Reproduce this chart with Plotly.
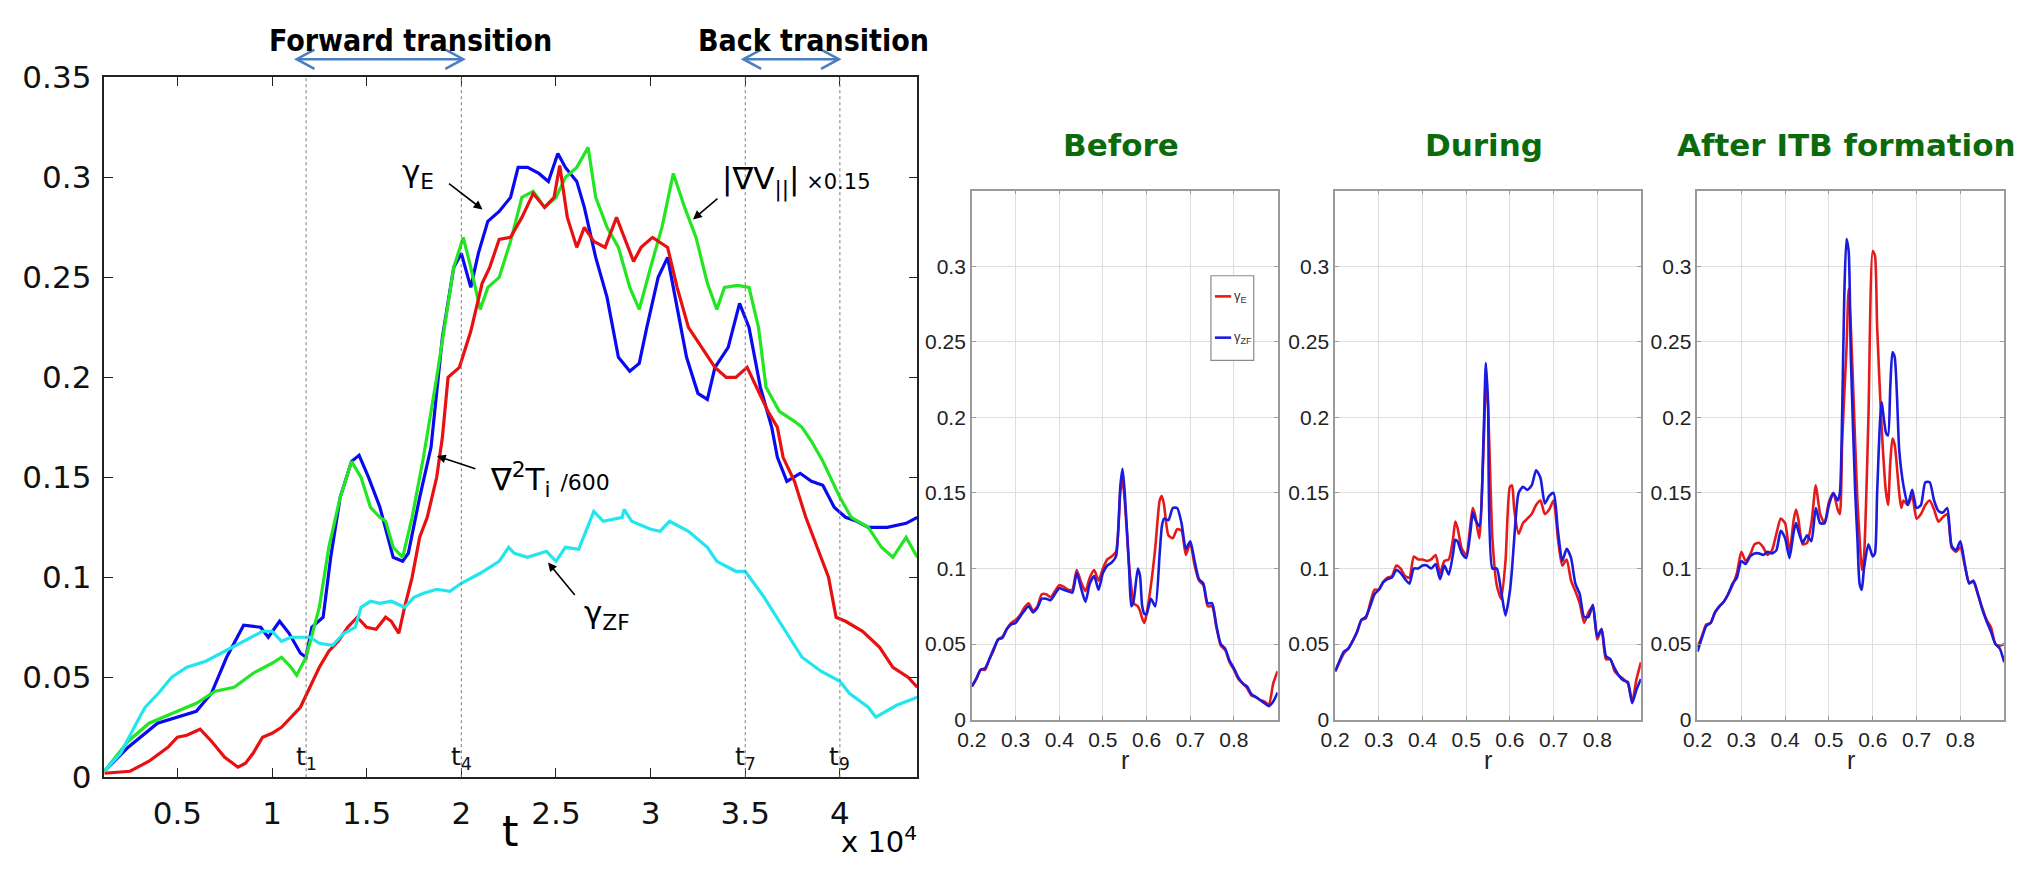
import plotly.graph_objects as go

W, H = 2031, 870

# ---------------- time traces (left panel) ----------------
t_gE = [1140, 2400, 3950, 5000, 6000, 6800, 7600, 8500, 9400, 9800, 10400, 10900, 11500, 11800,
        12100, 12700, 13100, 13600, 14200, 14600, 15100, 15700, 16400, 16900, 17200, 17800, 18400,
        19000, 19600, 20000, 20500, 20900, 21400, 22000, 22600, 23000, 23500, 24100, 24600, 25100,
        25500, 26100, 26500, 27100, 27700, 28300, 28900, 29400, 29800, 30400, 30900, 31300, 31900,
        32500, 33000, 33400, 34100, 34700, 35200, 35800, 36400, 36700, 37200, 37900, 38500, 39100,
        39700, 40300, 40900, 41500, 42500, 43500, 44090]
gamma_E = [0.003, 0.015, 0.027, 0.030, 0.033, 0.042, 0.060, 0.076, 0.075, 0.070, 0.078, 0.072, 0.062, 0.060,
           0.075, 0.080, 0.110, 0.140, 0.158, 0.161, 0.150, 0.135, 0.110, 0.108, 0.112, 0.140, 0.165,
           0.220, 0.255, 0.262, 0.245, 0.262, 0.278, 0.283, 0.290, 0.305, 0.305, 0.302, 0.298, 0.312,
           0.305, 0.298, 0.285, 0.260, 0.240, 0.210, 0.203, 0.207, 0.225, 0.250, 0.260, 0.240, 0.210,
           0.192, 0.189, 0.205, 0.215, 0.237, 0.225, 0.195, 0.175, 0.160, 0.148, 0.152, 0.148, 0.146,
           0.135, 0.130, 0.128, 0.125, 0.125, 0.127, 0.130]

t_gradV = [1140, 2400, 3500, 5000, 6000, 7000, 8000, 9000, 10000, 10500, 11000, 11300, 11800, 12500,
           13000, 13600, 14200, 14700, 15200, 15700, 16000, 16400, 16900, 17400, 18000, 18700, 19600,
           20100, 20500, 21000, 21400, 22000, 22600, 23200, 23800, 24400, 25000, 25500, 26100, 26700,
           27100, 27700, 28300, 28900, 29400, 30000, 30600, 31200, 31800, 32400, 33000, 33500, 33900,
           34600, 35200, 35700, 36100, 36800, 37600, 38000, 38500, 39100, 40000, 40600, 41500, 42200,
           42800, 43500, 44090]
gradV_par = [0.003, 0.018, 0.027, 0.033, 0.037, 0.043, 0.045, 0.052, 0.057, 0.060, 0.055, 0.051, 0.060, 0.085,
             0.115, 0.140, 0.158, 0.150, 0.135, 0.130, 0.128, 0.115, 0.110, 0.130, 0.160, 0.200, 0.255,
             0.270, 0.255, 0.234, 0.245, 0.250, 0.268, 0.290, 0.293, 0.285, 0.290, 0.300, 0.305, 0.315,
             0.290, 0.275, 0.265, 0.245, 0.234, 0.255, 0.275, 0.302, 0.285, 0.270, 0.247, 0.234, 0.245,
             0.246, 0.245, 0.225, 0.195, 0.183, 0.178, 0.175, 0.168, 0.158, 0.140, 0.130, 0.125, 0.115,
             0.110, 0.120, 0.110]

t_lapT = [1140, 2500, 3500, 4500, 5000, 5500, 6200, 6800, 7500, 8200, 8600, 9000, 9500, 10000, 10500,
          11000, 11500, 12000, 12500, 13000, 13500, 14000, 14500, 15000, 15500, 16000, 16300, 16700,
          17000, 17400, 17800, 18200, 18700, 19000, 19300, 19900, 20500, 21100, 21500, 22000, 22600,
          23200, 23800, 24400, 24900, 25200, 25600, 26100, 26500, 27000, 27600, 28200, 28600, 29100,
          29500, 30100, 30900, 31400, 32000, 32700, 33400, 34000, 34500, 35100, 35600, 36200, 36700,
          37000, 37600, 38200, 38800, 39400, 39800, 40300, 41200, 42100, 42800, 43600, 44090]
lapT_i = [0.002, 0.003, 0.008, 0.015, 0.020, 0.021, 0.024, 0.018, 0.010, 0.005, 0.007, 0.012, 0.020, 0.022,
          0.025, 0.030, 0.035, 0.045, 0.055, 0.063, 0.068, 0.075, 0.080, 0.075, 0.074, 0.080, 0.078,
          0.072, 0.085, 0.100, 0.120, 0.130, 0.150, 0.170, 0.200, 0.205, 0.223, 0.247, 0.255, 0.269,
          0.270, 0.280, 0.292, 0.285, 0.290, 0.306, 0.280, 0.265, 0.275, 0.268, 0.265, 0.280, 0.270,
          0.258, 0.265, 0.270, 0.265, 0.245, 0.225, 0.215, 0.205, 0.200, 0.200, 0.205, 0.195, 0.183,
          0.175, 0.160, 0.148, 0.130, 0.115, 0.100, 0.080, 0.078, 0.073, 0.065, 0.055, 0.050, 0.045]

t_gZF = [1140, 2000, 3000, 3300, 4000, 4700, 5500, 6500, 7500, 8500, 9500, 10000, 10500, 11000, 11500,
         12000, 12500, 13200, 13800, 14400, 14700, 15200, 15700, 16300, 17000, 17500, 18000, 18700,
         19400, 20000, 21000, 22000, 22500, 22800, 23500, 24500, 25000, 25500, 26200, 26800, 27000,
         27500, 28500, 28600, 29000, 30000, 30500, 31000, 32000, 33000, 33500, 34500, 35000, 36000,
         37000, 38000, 39000, 40000, 40500, 41500, 41900, 43000, 44090]
gamma_ZF = [0.003, 0.012, 0.030, 0.035, 0.042, 0.050, 0.055, 0.058, 0.063, 0.068, 0.073, 0.073, 0.068, 0.070, 0.070,
            0.070, 0.067, 0.066, 0.072, 0.075, 0.085, 0.088, 0.087, 0.088, 0.085, 0.090, 0.092, 0.094,
            0.093, 0.097, 0.102, 0.108, 0.115, 0.112, 0.110, 0.113, 0.108, 0.115, 0.114, 0.128, 0.133,
            0.128, 0.130, 0.134, 0.128, 0.124, 0.123, 0.128, 0.123, 0.115, 0.108, 0.103, 0.103, 0.090,
            0.075, 0.060, 0.053, 0.048, 0.042, 0.035, 0.030, 0.036, 0.040]

# transition times marked on the time trace
t_marks = [11800, 20000, 35000, 40000]
t_mark_names = ["1", "4", "7", "9"]
# forward / back transition spans
fwd_span = [11300, 20100]
back_span = [34900, 39950]

t_ticks = [5000, 10000, 15000, 20000, 25000, 30000, 35000, 40000]
t_ticktext = ["0.5", "1", "1.5", "2", "2.5", "3", "3.5", "4"]

# ---------------- radial profiles (right panels) ----------------
r_before = [0.20, 0.21, 0.22, 0.23, 0.24, 0.25, 0.26, 0.27, 0.28, 0.29, 0.30, 0.31, 0.32, 0.33, 0.34,
            0.35, 0.36, 0.37, 0.38, 0.39, 0.40, 0.41, 0.42, 0.43, 0.44, 0.45, 0.46, 0.47, 0.48, 0.49,
            0.50, 0.51, 0.52, 0.53, 0.54, 0.545, 0.55, 0.56, 0.565, 0.57, 0.58, 0.585, 0.59, 0.595,
            0.60, 0.61, 0.62, 0.63, 0.635, 0.64, 0.65, 0.66, 0.67, 0.68, 0.69, 0.70, 0.71, 0.72,
            0.73, 0.74, 0.75, 0.76, 0.77, 0.78, 0.79, 0.80, 0.81, 0.82, 0.83, 0.84, 0.85, 0.86,
            0.87, 0.88, 0.89, 0.90]
gE_before = [0.022, 0.027, 0.033, 0.033, 0.040, 0.046, 0.053, 0.055, 0.060, 0.064, 0.066, 0.069, 0.074, 0.077, 0.072,
             0.075, 0.083, 0.083, 0.081, 0.085, 0.089, 0.088, 0.086, 0.086, 0.099, 0.091, 0.085, 0.094, 0.099, 0.092,
             0.100, 0.106, 0.108, 0.111, 0.151, 0.158, 0.145, 0.102, 0.088, 0.077, 0.075, 0.072, 0.067, 0.064,
             0.070, 0.089, 0.114, 0.145, 0.148, 0.142, 0.122, 0.120, 0.126, 0.125, 0.109, 0.117, 0.102, 0.092,
             0.089, 0.075, 0.075, 0.061, 0.049, 0.046, 0.038, 0.033, 0.027, 0.024, 0.021, 0.016, 0.015, 0.013,
             0.012, 0.010, 0.024, 0.032]
gZF_before = [0.022, 0.027, 0.033, 0.034, 0.040, 0.047, 0.053, 0.054, 0.060, 0.063, 0.064, 0.068, 0.072, 0.075, 0.071,
              0.074, 0.080, 0.080, 0.079, 0.083, 0.087, 0.086, 0.085, 0.084, 0.097, 0.087, 0.078, 0.090, 0.095, 0.086,
              0.097, 0.102, 0.104, 0.108, 0.155, 0.166, 0.150, 0.100, 0.075, 0.078, 0.100, 0.095, 0.075, 0.070,
              0.070, 0.080, 0.075, 0.110, 0.128, 0.133, 0.132, 0.140, 0.140, 0.130, 0.113, 0.118, 0.105, 0.093,
              0.090, 0.077, 0.077, 0.062, 0.050, 0.047, 0.039, 0.034, 0.028, 0.024, 0.022, 0.017, 0.015, 0.013,
              0.011, 0.009, 0.012, 0.018]

r_during = [0.20, 0.21, 0.22, 0.23, 0.24, 0.25, 0.26, 0.27, 0.28, 0.29, 0.30, 0.31, 0.32, 0.33, 0.34,
            0.35, 0.36, 0.37, 0.38, 0.39, 0.40, 0.41, 0.42, 0.43, 0.44, 0.45, 0.46, 0.47, 0.475, 0.48,
            0.49, 0.50, 0.51, 0.515, 0.52, 0.53, 0.54, 0.545, 0.55, 0.56, 0.57, 0.58, 0.59, 0.60,
            0.605, 0.61, 0.62, 0.63, 0.64, 0.65, 0.66, 0.67, 0.68, 0.69, 0.70, 0.71, 0.72, 0.73,
            0.74, 0.75, 0.76, 0.77, 0.78, 0.79, 0.80, 0.81, 0.82, 0.83, 0.84, 0.85, 0.86, 0.87,
            0.88, 0.89, 0.90]
gE_during = [0.032, 0.038, 0.044, 0.047, 0.052, 0.058, 0.066, 0.067, 0.077, 0.086, 0.086, 0.091, 0.094, 0.095, 0.102,
             0.100, 0.095, 0.094, 0.108, 0.106, 0.106, 0.105, 0.106, 0.109, 0.097, 0.105, 0.106, 0.120, 0.131, 0.127,
             0.113, 0.109, 0.130, 0.140, 0.136, 0.120, 0.182, 0.226, 0.207, 0.120, 0.089, 0.080, 0.105, 0.154,
             0.155, 0.139, 0.123, 0.130, 0.133, 0.136, 0.142, 0.145, 0.136, 0.139, 0.145, 0.120, 0.102, 0.106,
             0.092, 0.085, 0.077, 0.064, 0.071, 0.075, 0.053, 0.060, 0.040, 0.040, 0.032, 0.029, 0.027, 0.024,
             0.012, 0.027, 0.038]
gZF_during = [0.032, 0.039, 0.045, 0.047, 0.052, 0.058, 0.066, 0.068, 0.075, 0.083, 0.086, 0.091, 0.093, 0.094, 0.099,
              0.097, 0.093, 0.090, 0.100, 0.100, 0.102, 0.102, 0.100, 0.103, 0.093, 0.102, 0.096, 0.110, 0.119, 0.118,
              0.110, 0.107, 0.125, 0.137, 0.133, 0.128, 0.190, 0.236, 0.210, 0.100, 0.100, 0.085, 0.069, 0.085,
              0.100, 0.120, 0.150, 0.154, 0.152, 0.155, 0.165, 0.160, 0.143, 0.148, 0.150, 0.125, 0.105, 0.113,
              0.107, 0.090, 0.083, 0.068, 0.068, 0.076, 0.055, 0.060, 0.042, 0.040, 0.034, 0.029, 0.026, 0.025,
              0.011, 0.020, 0.027]

r_after = [0.20, 0.21, 0.22, 0.23, 0.24, 0.25, 0.26, 0.27, 0.28, 0.29, 0.30, 0.31, 0.32, 0.33, 0.34,
           0.35, 0.36, 0.37, 0.38, 0.39, 0.40, 0.41, 0.42, 0.425, 0.43, 0.44, 0.45, 0.46, 0.47, 0.48,
           0.49, 0.50, 0.51, 0.52, 0.525, 0.53, 0.535, 0.54, 0.545, 0.55, 0.56, 0.565, 0.57, 0.575,
           0.58, 0.59, 0.60, 0.605, 0.61, 0.62, 0.63, 0.635, 0.64, 0.645, 0.65, 0.66, 0.665, 0.67,
           0.68, 0.69, 0.70, 0.71, 0.72, 0.73, 0.74, 0.75, 0.76, 0.77, 0.78, 0.79, 0.80, 0.81,
           0.82, 0.83, 0.84, 0.85, 0.86, 0.87, 0.88, 0.89, 0.90]
gE_after = [0.048, 0.055, 0.063, 0.064, 0.071, 0.075, 0.078, 0.083, 0.089, 0.097, 0.111, 0.105, 0.109, 0.116, 0.117,
            0.114, 0.109, 0.112, 0.123, 0.133, 0.130, 0.111, 0.133, 0.139, 0.133, 0.116, 0.117, 0.130, 0.155, 0.136,
            0.130, 0.144, 0.150, 0.139, 0.136, 0.182, 0.215, 0.245, 0.285, 0.260, 0.182, 0.145, 0.120, 0.099,
            0.108, 0.198, 0.310, 0.307, 0.260, 0.195, 0.151, 0.142, 0.170, 0.186, 0.182, 0.151, 0.140, 0.145,
            0.142, 0.148, 0.133, 0.136, 0.142, 0.145, 0.139, 0.131, 0.134, 0.136, 0.114, 0.111, 0.114, 0.102,
            0.091, 0.091, 0.083, 0.074, 0.066, 0.061, 0.050, 0.049, 0.050]
gZF_after = [0.045, 0.054, 0.062, 0.064, 0.071, 0.075, 0.078, 0.083, 0.090, 0.094, 0.105, 0.103, 0.108, 0.110, 0.110,
             0.109, 0.111, 0.110, 0.112, 0.125, 0.120, 0.107, 0.125, 0.130, 0.125, 0.117, 0.122, 0.118, 0.140, 0.130,
             0.130, 0.142, 0.150, 0.145, 0.150, 0.200, 0.280, 0.318, 0.310, 0.240, 0.150, 0.120, 0.090, 0.086,
             0.100, 0.116, 0.108, 0.110, 0.150, 0.210, 0.190, 0.188, 0.220, 0.243, 0.240, 0.180, 0.165, 0.155,
             0.142, 0.152, 0.140, 0.142, 0.157, 0.157, 0.145, 0.138, 0.137, 0.140, 0.115, 0.112, 0.118, 0.103,
             0.090, 0.092, 0.083, 0.073, 0.065, 0.058, 0.050, 0.047, 0.038]

r_ticks = [0.2, 0.3, 0.4, 0.5, 0.6, 0.7, 0.8]
g_ticks = [0, 0.05, 0.1, 0.15, 0.2, 0.25, 0.3]
g_ticktext = ["0", "0.05", "0.1", "0.15", "0.2", "0.25", "0.3"]
panel_titles = ["Before", "During", "After ITB formation"]

# ---------------- colours ----------------
C_BLUE, C_GREEN, C_RED, C_CYAN = "#0a0af0", "#22e622", "#e81010", "#22e6ee"
P_RED, P_BLUE = "#e51b1b", "#1b1be0"
ARROW_BLUE = "#4a7ebf"
TITLE_GREEN = "#0b6b0b"

# ---------------- geometry (pixels) ----------------
MAIN_X = (90, 909)
MAIN_Y = (62, 792)          # top, bottom
PANEL_X = [(964, 1272), (1330, 1638), (1695, 2004)]
PANEL_Y = (180, 732)


def px_dom_x(a, b):
    return [a / W, b / W]


def px_dom_y(top, bottom):
    return [(H - bottom) / H, (H - top) / H]


def py(top_px):
    """paper y for a pixel row measured from the top"""
    return (H - top_px) / H


fig = go.Figure()

main_series = [
    (t_gE, gamma_E, C_BLUE, "γ_E"),
    (t_gradV, gradV_par, C_GREEN, "|∇V_∥|×0.15"),
    (t_lapT, lapT_i, C_RED, "∇²T_i/600"),
    (t_gZF, gamma_ZF, C_CYAN, "γ_ZF"),
]
for tx, vy, col, nm in main_series:
    fig.add_trace(go.Scatter(x=tx, y=vy, mode="lines", name=nm, showlegend=False,
                             line=dict(color=col, width=3.2), xaxis="x", yaxis="y"))

profiles = [(r_before, gE_before, gZF_before), (r_during, gE_during, gZF_during),
            (r_after, gE_after, gZF_after)]
for i, (rr, ge, gz) in enumerate(profiles):
    ax = str(i + 2)
    fig.add_trace(go.Scatter(x=rr, y=ge, mode="lines", name="γ_E", showlegend=False,
                             line=dict(color=P_RED, width=2.6, shape="spline", smoothing=0.6),
                             xaxis="x" + ax, yaxis="y" + ax))
    fig.add_trace(go.Scatter(x=rr, y=gz, mode="lines", name="γ_ZF", showlegend=False,
                             line=dict(color=P_BLUE, width=2.6, shape="spline", smoothing=0.6),
                             xaxis="x" + ax, yaxis="y" + ax))

MAIN_FONT = dict(family="DejaVu Sans, Liberation Sans, Arial", size=31, color="#111")
PANEL_FONT = dict(family="Liberation Sans Narrow, Liberation Sans, Arial", size=21, color="#222")

layout = dict(
    width=W, height=H, margin=dict(l=0, r=0, t=0, b=0),
    paper_bgcolor="white", plot_bgcolor="white",
    xaxis=dict(domain=px_dom_x(*MAIN_X), range=[1140, 44090], tickvals=t_ticks, ticktext=t_ticktext,
               showline=True, linecolor="#222", linewidth=1.5, mirror="ticks", ticks="inside",
               ticklen=9, tickcolor="#222", showgrid=False, zeroline=False, tickfont=MAIN_FONT,
               ticklabelstandoff=8, anchor="y"),
    yaxis=dict(domain=px_dom_y(*MAIN_Y), range=[0, 0.35], dtick=0.05, tick0=0,
               showline=True, linecolor="#222", linewidth=1.5, mirror="ticks", ticks="inside",
               ticklen=9, tickcolor="#222", showgrid=False, zeroline=False, tickfont=MAIN_FONT,
               ticklabelstandoff=5, anchor="x"),
)
for i, (xa, xb) in enumerate(PANEL_X):
    n = str(i + 2)
    layout["xaxis" + n] = dict(domain=px_dom_x(xa, xb), range=[0.2, 0.9], tickvals=r_ticks,
                               ticktext=[str(v) for v in r_ticks],
                               showline=True, linecolor="#9a9a9a", linewidth=1.6, mirror="ticks",
                               ticks="inside", ticklen=4, tickcolor="#9a9a9a",
                               showgrid=True, gridcolor="#dedede", gridwidth=1, zeroline=False,
                               tickfont=PANEL_FONT, anchor="y" + n)
    layout["yaxis" + n] = dict(domain=px_dom_y(*PANEL_Y), range=[0, 0.35], tickvals=g_ticks,
                               ticktext=g_ticktext,
                               showline=True, linecolor="#9a9a9a", linewidth=1.6, mirror="ticks",
                               ticks="inside", ticklen=4, tickcolor="#9a9a9a",
                               showgrid=True, gridcolor="#dedede", gridwidth=1, zeroline=False,
                               tickfont=PANEL_FONT, anchor="x" + n)
fig.update_layout(**layout)

shapes = []
annotations = []


def note(**kw):
    kw.setdefault("showarrow", False)
    kw.setdefault("xanchor", "center")
    kw.setdefault("yanchor", "middle")
    annotations.append(kw)


# dotted markers of the transition times
for tm, nm in zip(t_marks, t_mark_names):
    shapes.append(dict(type="line", xref="x", yref="y domain", x0=tm, x1=tm, y0=0, y1=1,
                       line=dict(color="#7a7a7a", width=1, dash="dot")))
    note(xref="x", yref="y", x=tm, y=0, yanchor="bottom", yshift=1, text="t<sub>" + nm + "</sub>",
         font=dict(family="DejaVu Sans, Arial", size=25, color="#111"))

# double-headed transition arrows above the time trace
px_t = (44090 - 1140) / (MAIN_X[1] - MAIN_X[0])
y_arrow = py(43)
head_dx, head_dy = 18 * px_t, 10 / H
for a, b in (fwd_span, back_span):
    shapes.append(dict(type="line", xref="x", yref="paper", x0=a, x1=b, y0=y_arrow, y1=y_arrow,
                       line=dict(color=ARROW_BLUE, width=2.5)))
    shapes.append(dict(type="path", xref="x", yref="paper",
                       path=f"M {a + head_dx},{y_arrow + head_dy} L {a},{y_arrow} L {a + head_dx},{y_arrow - head_dy}",
                       line=dict(color=ARROW_BLUE, width=2.5)))
    shapes.append(dict(type="path", xref="x", yref="paper",
                       path=f"M {b - head_dx},{y_arrow + head_dy} L {b},{y_arrow} L {b - head_dx},{y_arrow - head_dy}",
                       line=dict(color=ARROW_BLUE, width=2.5)))

TOP_FONT = dict(family="DejaVu Sans Condensed, Liberation Sans Narrow, DejaVu Sans", size=30,
                color="#000", weight="bold")
note(xref="paper", yref="paper", x=398 / W, y=py(23), text="<b>Forward transition</b>", font=TOP_FONT)
note(xref="paper", yref="paper", x=804 / W, y=py(23), text="<b>Back transition</b>", font=TOP_FONT)

# axis labels of the time trace
note(xref="paper", yref="paper", x=499 / W, y=py(849), text="t",
     font=dict(family="DejaVu Sans, Arial", size=42, color="#000"))
note(xref="paper", yref="paper", x=830 / W, y=py(858), xanchor="left", text="x 10<sup>4</sup>",
     font=dict(family="DejaVu Sans, Arial", size=29, color="#000"))

# curve labels with pointer arrows
LBL_FONT = dict(family="DejaVu Sans, Arial", size=31, color="#000")
curve_labels = [
    ("γ<sub>E</sub>", 17700, 0.302),
    ("|∇V<sub>||</sub>|<span style='font-size:21px'> ×0.15</span>", 37700, 0.298),
    ("∇<sup>2</sup>T<sub>i</sub> <span style='font-size:22px'>/600</span>", 24700, 0.149),
    ("γ<sub>ZF</sub>", 27700, 0.0815),
]
for txt, x, y in curve_labels:
    note(xref="x", yref="y", x=x, y=y, text=txt, font=LBL_FONT)
pointers = [(21120, 0.284, -35, -27), (32240, 0.279, 26, -22), (18710, 0.1606, 40, 13),
            (24580, 0.1074, 28, 34)]
for x, y, dx, dy in pointers:
    annotations.append(dict(xref="x", yref="y", x=x, y=y, ax=dx, ay=dy, text="", showarrow=True,
                            arrowhead=2, arrowsize=1.1, arrowwidth=1.6, arrowcolor="#000"))

# panel titles and r labels
for (xa, xb), ttl in zip(PANEL_X, panel_titles):
    note(xref="paper", yref="paper", x=((xa + xb) / 2 - 4) / W, y=py(133), text="<b>" + ttl + "</b>",
         font=dict(family="DejaVu Sans, Arial", size=31, color=TITLE_GREEN))
    note(xref="paper", yref="paper", x=(xa + xb) / 2 / W, y=py(774), text="r",
         font=dict(family="Liberation Sans, Arial", size=25, color="#222"))

# legend box inside the first profile panel
shapes.append(dict(type="rect", xref="x2 domain", yref="y2 domain", x0=0.782, x1=0.922,
                   y0=0.679, y1=0.839, line=dict(color="#8a8a8a", width=1.2), fillcolor="white"))
for yy, col, lab in ((0.800, P_RED, "γ<sub>E</sub>"), (0.722, P_BLUE, "γ<sub>ZF</sub>")):
    shapes.append(dict(type="line", xref="x2 domain", yref="y2 domain", x0=0.795, x1=0.848,
                       y0=yy, y1=yy, line=dict(color=col, width=2.6)))
    note(xref="x2 domain", yref="y2 domain", x=0.852, y=yy, xanchor="left", text=lab,
         font=dict(family="Liberation Sans, Arial", size=13, color="#333"))

fig.update_layout(shapes=shapes, annotations=annotations)
fig.write_html("out.html", post_script="document.body.style.margin='0';")
